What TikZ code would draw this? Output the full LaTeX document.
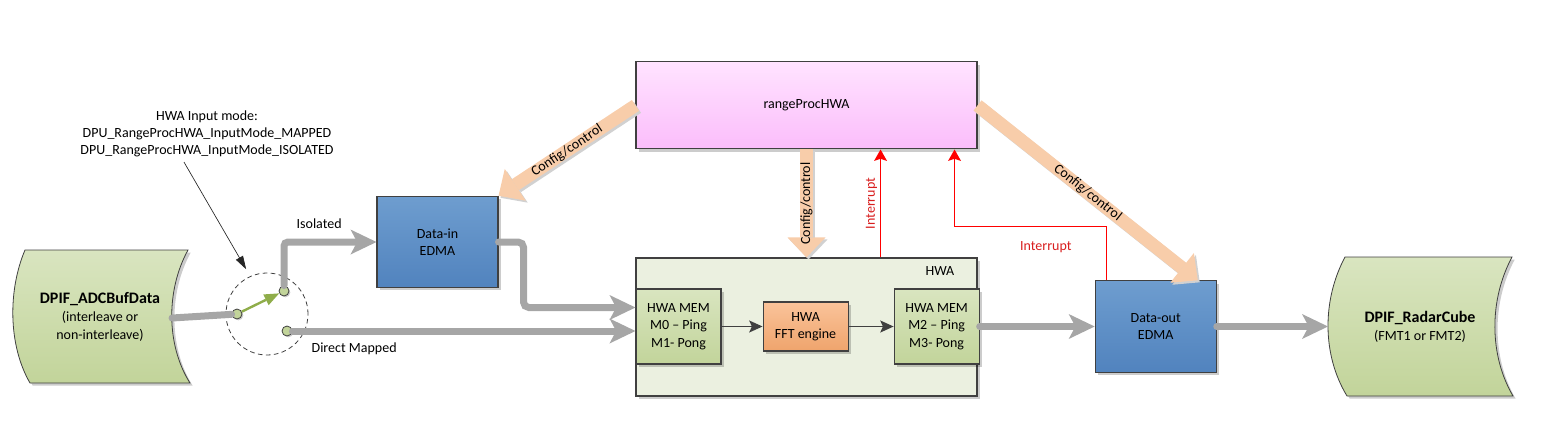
\documentclass[tikz,border=0pt]{standalone}
\usepackage{fontspec}
\setmainfont{Carlito}
\usetikzlibrary{arrows.meta,positioning,calc,shadows}

\definecolor{edmatop}{HTML}{6E9DCF}
\definecolor{edmabot}{HTML}{5183BE}
\definecolor{pinktop}{HTML}{FFE3FF}
\definecolor{pinkbot}{HTML}{FBBDFB}
\definecolor{memtop}{HTML}{D9E5C0}
\definecolor{membot}{HTML}{C2D49A}
\definecolor{ffttop}{HTML}{FAC39A}
\definecolor{fftbot}{HTML}{EFA46C}
\definecolor{hwafill}{HTML}{EBF0E0}
\definecolor{cfgfill}{HTML}{F8CDAA}
\definecolor{datagray}{HTML}{A6A6A6}
\definecolor{edge}{HTML}{404040}
\definecolor{swgreen}{HTML}{8FAD4A}
\definecolor{irqred}{HTML}{FF0000}
\definecolor{irqtext}{HTML}{D81E1E}

\tikzset{
  box/.style={draw=edge, line width=0.8pt, inner sep=2pt, align=center,
    drop shadow={shadow xshift=2pt, shadow yshift=-2pt, opacity=.2, fill=black}},
  edma/.style={box, top color=edmatop, bottom color=edmabot,
    minimum width=90.75pt, minimum height=68.5pt},
  mem/.style={box, top color=memtop, bottom color=membot,
    minimum width=63.75pt, minimum height=56.25pt},
  fftbox/.style={box, top color=ffttop, bottom color=fftbot,
    minimum width=63.75pt, minimum height=36.75pt},
  hwabox/.style={box, fill=hwafill, minimum width=255.75pt, minimum height=103.5pt},
  procbox/.style={box, top color=pinktop, bottom color=pinkbot,
    minimum width=255.75pt, minimum height=65.25pt},
  stored/.style={draw=edge, line width=0.6pt, top color=memtop, bottom color=membot,
    drop shadow={shadow xshift=2pt, shadow yshift=-2pt, opacity=.2, fill=black}},
  contact/.style={circle, draw=edge, line width=0.6pt, fill=membot,
    minimum size=7.5pt, inner sep=0pt,
    drop shadow={shadow xshift=1pt, shadow yshift=-1pt, opacity=.2, fill=black}},
  switchring/.style={circle, draw=edge, line width=0.6pt, dash pattern=on 3.5pt off 2.5pt,
    minimum size=61.5pt, inner sep=0pt},
  pipe/.style={draw=datagray, line width=5.25pt, line cap=round},
  data/.style={pipe, -{Stealth[length=19.5pt, width=18.75pt, inset=5pt, line width=0pt]}},
  cfg/.style={draw=cfgfill, line width=9.75pt,
    -{Triangle[length=15pt, width=28.5pt, line width=0pt]}},
  cfgshadow/.style={cfg, draw=black!18, transform canvas={shift={(1.5pt,-1.5pt)}}},
  flow/.style={draw=edge, line width=1pt, -{Stealth[length=10pt, width=9pt, inset=2pt]}},
  irq/.style={draw=irqred, line width=1.2pt, -{Stealth[length=8.5pt, width=9.5pt, inset=1.5pt]}},
  note/.style={draw=black!85, line width=0.5pt, -{Triangle[length=10pt, width=6pt]}},
  swarrow/.style={draw=swgreen, line width=1.8pt, -{Triangle[length=11pt, width=9pt, line width=0pt]}}
}

\begin{document}
\begin{tikzpicture}[x=0.75pt, y=-0.75pt, font=\fontsize{10.5}{13}\selectfont]
  \useasboundingbox (0,0) rectangle (1541,422);

  % data in / data out
  \path[stored] (25,250) -- (188,250) .. controls (166,290) and (166,345) .. (190,383)
    -- (30,383) .. controls (8,345) and (8,290) .. (25,250) -- cycle;
  \path[stored] (1345,257) -- (1512,257) .. controls (1489,300) and (1489,355) .. (1513,396)
    -- (1347,396) .. controls (1322,355) and (1322,300) .. (1345,257) -- cycle;
  \node[align=center, font=\fontsize{10.5}{13.5}\selectfont] (adc) at (100,317)
    {{\fontsize{12}{13.5}\selectfont\bfseries DPIF\_ADCBufData}\\(interleave or\\non-interleave)};
  \node[align=center, font=\fontsize{10.5}{14}\selectfont] (cube) at (1420,327)
    {{\fontsize{12}{14}\selectfont\bfseries DPIF\_RadarCube}\\(FMT1 or FMT2)};
  \coordinate (adcport) at (172,318);
  \coordinate (cubeport) at (1328,327);

  % input mode switch
  \node[align=center] (mode) at (207,134)
    {HWA Input mode:\\DPU\_RangeProcHWA\_InputMode\_MAPPED\\DPU\_RangeProcHWA\_InputMode\_ISOLATED};
  \node[switchring] (sw) at (267,314) {};
  \node[contact] (c0) at (237,314) {};
  \node[contact] (c1) at (284,291) {};
  \node[contact] (c2) at (287,331) {};

  % blocks
  \node[edma] (din) at (437.5,242) {Data-in\\EDMA};
  \node[hwabox] (hwa) at (806.5,327) {};
  \node (hwalbl) at (940,271) {HWA};
  \node[mem] (mem1) at (678.5,326.5) {HWA MEM\\M0 -- Ping\\M1- Pong};
  \node[fftbox] (fft) [right=30.75pt of mem1] {HWA\\FFT engine};
  \node[mem] (mem2) [right=33.75pt of fft] {HWA MEM\\M2 -- Ping\\M3- Pong};
  \node[procbox] (rp) [above=81pt of hwa] {rangeProcHWA};
  \node[edma] (dout) [right=86.25pt of mem2] {Data-out\\EDMA};

  % config/control
  \draw[cfgshadow] (rp.west) -- (din.north east);
  \draw[cfg] (rp.west) -- node[sloped]{Config/control} (din.north east);
  \draw[cfgshadow] (rp.south) -- (hwa.north);
  \draw[cfg] (rp.south) -- node[rotate=90]{Config/control} (hwa.north);
  \draw[cfgshadow] (rp.east) -- ($(dout.north east)+(-19,0)$);
  \draw[cfg] (rp.east) -- node[sloped]{Config/control} ($(dout.north east)+(-19,0)$);

  % data path
  \draw[pipe] (adcport) -- (c0);
  \draw[swarrow] (c0) -- (c1);
  \draw[data, rounded corners=3pt] (c1.north) |- node[pos=0.69, above=4pt]{Isolated} (din.west);
  \draw[data] (c2.east) -- node[pos=0.18, below=3pt]{Direct Mapped} (c2.east -| mem1.west);
  \draw[data, rounded corners=4pt] (din.east) -- ++(25,0) |- ($(mem1.west)+(0,-19)$);
  \draw[flow] (mem1.east) -- (fft.west);
  \draw[flow] (fft.east) -- (mem2.west);
  \draw[data] (mem2.east) -- (dout.west);
  \draw[data] (dout.east) -- (dout.east -| cubeport);

  % interrupts
  \draw[irq] ($(hwa.north east)+(-97,0)$) --
    node[rotate=90, anchor=south, text=irqtext, inner sep=2pt]{Interrupt} ($(rp.south east)+(-97,0)$);
  \draw[irq] ($(dout.north west)+(12,0)$) |-
    node[pos=0.7, below=7pt, text=irqtext]{Interrupt} ($(rp.south east)+(-23,77)$)
    -- ($(rp.south east)+(-23,0)$);

  \draw[note, shorten >=6pt] ($(mode.south)+(-23,0)$) -- (sw.114);
\end{tikzpicture}
\end{document}
